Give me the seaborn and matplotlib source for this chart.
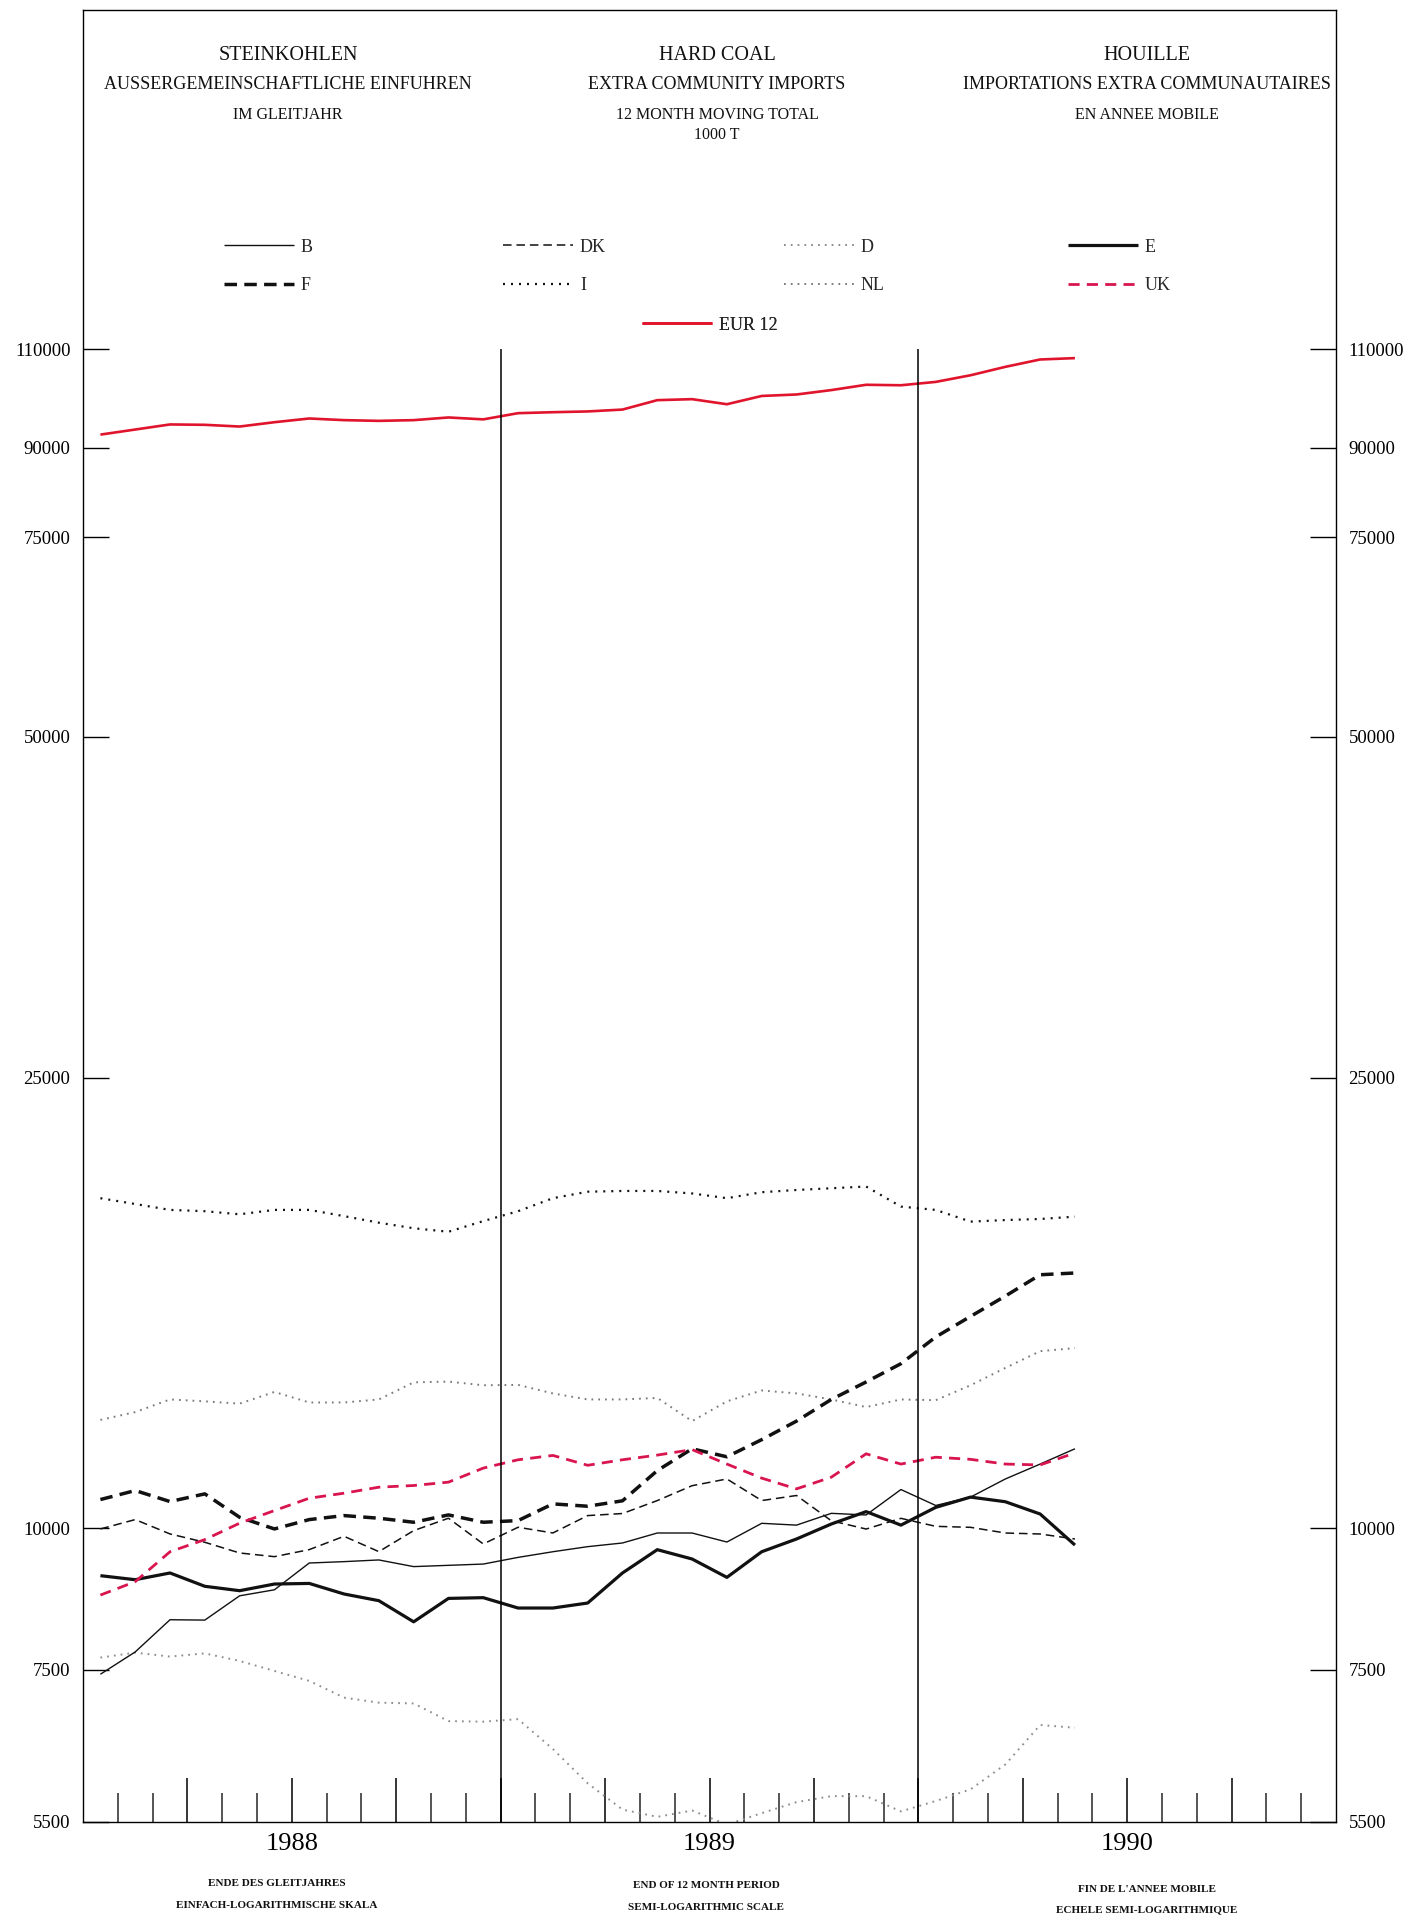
import matplotlib
matplotlib.use("Agg")
import numpy as np
import pandas as pd
import matplotlib.pyplot as plt
import seaborn as sns
from matplotlib.ticker import FixedLocator, FixedFormatter, NullLocator

# ---------------- data (1000 t, 12 month moving total) ----------------
months = list(pd.period_range("1988-01", "1990-05", freq="M").astype(str))

EUR12 = [92440, 93400, 94370, 94300, 93970, 94800, 95520, 95200, 95060, 95200,
         95720, 95350, 96560, 96750, 96900, 97270, 99150, 99350, 98330, 100000,
         100300, 101200, 102300, 102200, 102900, 104300, 106100, 107700, 108000]
I_ = [19560, 19330, 19100, 19050, 18930, 19100, 19100, 18860, 18610, 18400,
      18270, 18670, 19050, 19560, 19820, 19850, 19850, 19750, 19560, 19800,
      19890, 19960, 20030, 19230, 19100, 18650, 18710, 18750, 18840]
NL = [12460, 12660, 12990, 12940, 12880, 13190, 12910, 12910, 12990, 13450,
      13470, 13370, 13380, 13150, 12990, 12990, 13030, 12430, 12940, 13230,
      13150, 12990, 12790, 12990, 12970, 13370, 13850, 14330, 14420]
F = [10597, 10793, 10554, 10720, 10222, 9982, 10174, 10257, 10202, 10119,
     10271, 10119, 10153, 10504, 10454, 10570, 11240, 11750, 11560, 11970,
     12430, 12990, 13460, 13970, 14750, 15380, 16030, 16740, 16800]
UK = [8726, 8967, 9530, 9768, 10100, 10362, 10626, 10735, 10867, 10904,
      10979, 11297, 11490, 11592, 11362, 11490, 11600, 11730, 11390, 11069,
      10830, 11090, 11630, 11390, 11550, 11500, 11390, 11370, 11650]
DK = [9982, 10174, 9881, 9715, 9506, 9435, 9571, 9834, 9532, 9948,
      10202, 9682, 10016, 9901, 10257, 10300, 10575, 10900, 11050, 10575,
      10685, 10150, 9980, 10200, 10035, 10015, 9900, 9880, 9780]
B = [7428, 7773, 8299, 8293, 8713, 8820, 9314, 9340, 9372, 9246,
     9270, 9294, 9421, 9530, 9629, 9701, 9900, 9900, 9720, 10097,
     10060, 10304, 10270, 10815, 10470, 10650, 11050, 11390, 11750]
E = [9077, 9003, 9127, 8883, 8804, 8924, 8935, 8745, 8627, 8264,
     8667, 8680, 8499, 8499, 8586, 9127, 9570, 9390, 9046, 9530,
     9780, 10083, 10340, 10060, 10430, 10650, 10550, 10290, 9660]
D = [7684, 7762, 7700, 7750, 7632, 7478, 7328, 7083, 7011, 7000,
     6753, 6745, 6780, 6380, 5950, 5641, 5558, 5630, 5471, 5600,
     5727, 5797, 5797, 5620, 5740, 5878, 6183, 6700, 6662]

y_ticks = [5500, 7500, 10000, 25000, 50000, 75000, 90000, 110000]
y_ticklabels = ["5500", "7500", "10000", "25000", "50000", "75000", "90000", "110000"]
years = ["1988", "1989", "1990"]

series = {"B": B, "DK": DK, "D": D, "E": E, "F": F, "I": I_, "NL": NL, "UK": UK, "EUR 12": EUR12}

per = pd.PeriodIndex(months, freq="M")
xpos = (per.year - 1988) * 12 + (per.month - 1) + 0.5
frames = []
for name, vals in series.items():
    frames.append(pd.DataFrame({"month": xpos, "value": vals, "country": name}))
df = pd.concat(frames, ignore_index=True)

# ---------------- styling ----------------
sns.set_theme(style="white")
plt.rcParams["font.family"] = ["Liberation Serif", "DejaVu Serif"]
plt.rcParams["axes.edgecolor"] = "black"
plt.rcParams["lines.solid_capstyle"] = "butt"
plt.rcParams["lines.dash_capstyle"] = "butt"

RED_UK = "#d9154f"
RED_EU = "#e0142c"
styles = {
    "D":  dict(color="#8c8c8c", linewidth=1.4, linestyle=(0, (0.9, 2.6))),
    "NL": dict(color="#7a7a7a", linewidth=1.4, linestyle=(0, (0.9, 2.6))),
    "I":  dict(color="#111111", linewidth=1.6, linestyle=(0, (0.9, 2.7))),
    "DK": dict(color="#111111", linewidth=1.1, linestyle=(0, (5.6, 3.2))),
    "B":  dict(color="#111111", linewidth=1.0, linestyle="-"),
    "F":  dict(color="#111111", linewidth=2.5, linestyle=(0, (3.6, 2.1))),
    "E":  dict(color="#111111", linewidth=2.3, linestyle="-"),
    "UK": dict(color=RED_UK, linewidth=2.0, linestyle=(0, (4.0, 2.6))),
    "EUR 12": dict(color=RED_EU, linewidth=1.9, linestyle="-"),
}
draw_order = ["D", "NL", "I", "DK", "B", "F", "E", "UK", "EUR 12"]

W, H = 1426, 1920
fig = plt.figure(figsize=(W / 100, H / 100), dpi=100)
L, R, T, Bt = 83, 1336, 10, 1822
ax = fig.add_axes([L / W, 1 - Bt / H, (R - L) / W, (Bt - T) / H])
ax.set_yscale("log")

handles = {}
for name in draw_order:
    sub = df[df["country"] == name]
    sns.lineplot(data=sub, x="month", y="value", ax=ax, legend=False,
                 estimator=None, sort=True, label=name, **styles[name])
    handles[name] = ax.get_lines()[-1]

ax.set_xlim(0, 36)
ax.set_ylim(5500, 219240)
ax.set_xlabel("")
ax.set_ylabel("")

# year separators
ax.vlines([12, 24], 5500, 110000, color="black", linewidth=1.1)

# y axis ticks both sides, inward
ax.yaxis.set_major_locator(FixedLocator(y_ticks))
ax.yaxis.set_major_formatter(FixedFormatter(y_ticklabels))
ax.yaxis.set_minor_locator(NullLocator())
ax.tick_params(axis="y", which="major", direction="in", length=19, width=1.0,
               left=True, right=True, labelleft=True, labelright=True,
               labelsize=13.5, pad=9, colors="black")

# x axis: month boundary ticks, quarters taller
quarters = [3, 6, 9, 12, 15, 18, 21, 24, 27, 30, 33]
qlabels = ["", years[0], "", "", "", years[1], "", "", "", years[2], ""]
other = [m for m in range(1, 36) if m % 3 != 0]
ax.xaxis.set_major_locator(FixedLocator(quarters))
ax.xaxis.set_major_formatter(FixedFormatter(qlabels))
ax.xaxis.set_minor_locator(FixedLocator(other))
ax.tick_params(axis="x", which="major", direction="in", length=31.5, width=1.1,
               bottom=True, top=False, labelsize=19, pad=8, colors="black")
ax.tick_params(axis="x", which="minor", direction="in", length=21, width=1.1,
               bottom=True, top=False)
for lbl in ax.get_xticklabels():
    lbl.set_x(lbl.get_position()[0])
for s in ax.spines.values():
    s.set_visible(True)
    s.set_color("black")
    s.set_linewidth(1.0)

# ---------------- legend ----------------
leg_pos = {
    "B": (224, 247), "F": (224, 286),
    "DK": (503, 247), "I": (503, 286),
    "D": (784, 247), "NL": (784, 286),
    "E": (1068, 247), "UK": (1068, 286),
    "EUR 12": (642, 325),
}
fs = 13
fs_px = fs * 100 / 72
for k, (name, (px, py)) in enumerate(leg_pos.items()):
    lg = ax.legend(handles=[handles[name]], labels=[name], loc="center left",
                   bbox_to_anchor=(px / W, 1 - py / H), bbox_transform=fig.transFigure,
                   frameon=False, borderpad=0, borderaxespad=0,
                   handlelength=70 / fs_px, handletextpad=7 / fs_px,
                   prop={"family": ["Liberation Serif"], "size": fs})
    ax.add_artist(lg)

# ---------------- titles ----------------
cols = [288, 717, 1147]
title_rows = [
    ["STEINKOHLEN", "HARD COAL", "HOUILLE"],
    ["AUSSERGEMEINSCHAFTLICHE EINFUHREN", "EXTRA COMMUNITY IMPORTS",
     "IMPORTATIONS EXTRA COMMUNAUTAIRES"],
    ["IM GLEITJAHR", "12 MONTH MOVING TOTAL", "EN ANNEE MOBILE"],
    ["", "1000 T", ""],
]
row_y = [56, 84.5, 115, 135]
row_fs = [14.5, 13, 11.5, 11.5]
for r, texts in enumerate(title_rows):
    for c, t in enumerate(texts):
        if t:
            fig.text(cols[c] / W, 1 - row_y[r] / H, t, ha="center", va="center",
                     fontsize=row_fs[r], color="#111111")

# ---------------- bottom notes ----------------
notes = [
    ("ENDE DES GLEITJAHRES", "EINFACH-LOGARITHMISCHE SKALA", 277, 1884),
    ("END OF 12 MONTH PERIOD", "SEMI-LOGARITHMIC SCALE", 706, 1886),
    ("FIN DE L'ANNEE MOBILE", "ECHELE SEMI-LOGARITHMIQUE", 1147, 1889),
]
for l1, l2, px, py in notes:
    fig.text(px / W, 1 - py / H, l1, ha="center", va="center", fontsize=8,
             fontweight="bold", color="#111111")
    fig.text(px / W, 1 - (py + 21) / H, l2, ha="center", va="center", fontsize=8,
             fontweight="bold", color="#111111")

fig.savefig("out.png", dpi=100, facecolor="white")
